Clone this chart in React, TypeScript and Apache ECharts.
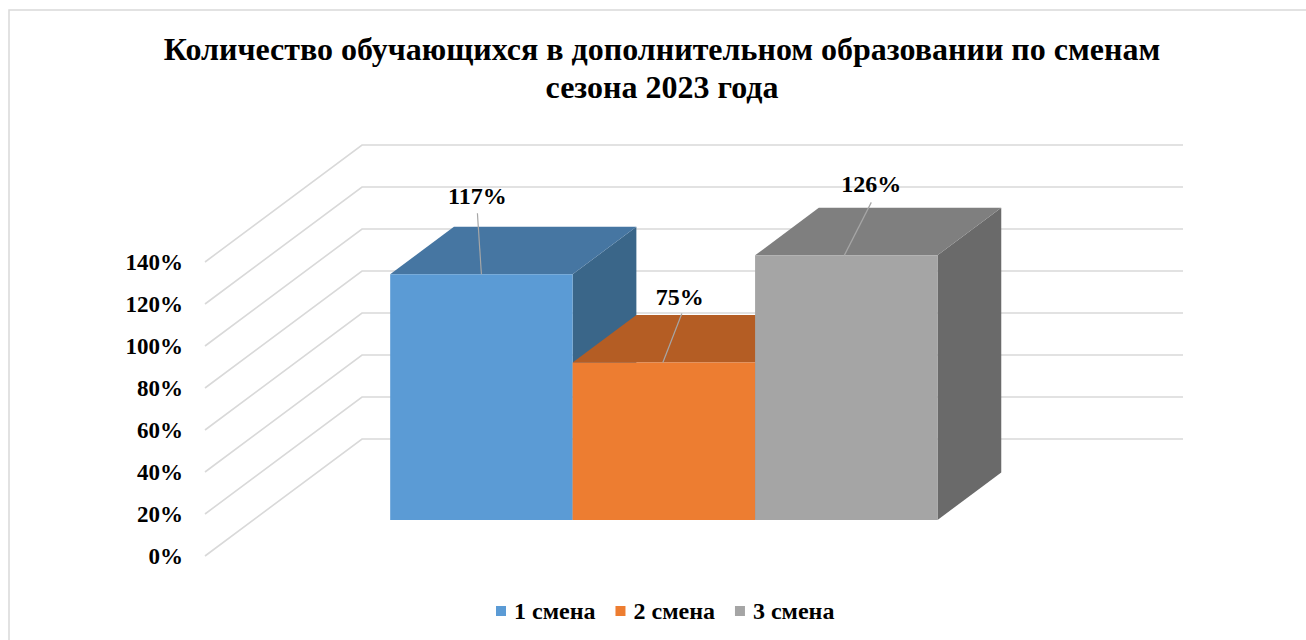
import React, { useEffect, useRef } from 'react';
import * as echarts from 'echarts';

// ---------- data ----------
const titleLines = [
  'Количество обучающихся в дополнительном образовании по сменам',
  'сезона 2023 года',
];
const categories = ['Сезон 2023'];
const seriesNames = ['1 смена', '2 смена', '3 смена'];
const seriesValues = [117, 75, 126];
const yTicks = [0, 20, 40, 60, 80, 100, 120, 140];

// ---------- styles ----------
const FONT = '"Liberation Serif", "Times New Roman", serif';
const faceColors = [
  { front: '#5B9BD5', top: '#4676A2', side: '#3A6689' },
  { front: '#ED7D31', top: '#B45D24', side: '#A0511E' },
  { front: '#A5A5A5', top: '#7F7F7F', side: '#6A6A6A' },
];
// label offsets relative to top-front-centre of each bar: [textDx, textDy, leaderStartDx, leaderStartDy, leaderEndDx]
const labelOffsets = [
  [-4, -78, -4, -61, 0],
  [16, -65, 18, -49, -1],
  [25, -71, 25, -53, -2],
];
const DEPTH = { dx: 157, dy: -117 };
const FRONT = 0.308;
const BACK = 0.714;
const GAP = 0.75;

export default function App() {
  const ref = useRef<HTMLDivElement>(null);
  useEffect(() => {
    if (!ref.current) return;
    const chart = echarts.init(ref.current, null, { renderer: 'svg' });
    const N = seriesNames.length;

    const gridSeries: any = {
      type: 'custom',
      name: 'grid',
      silent: true,
      z: 1,
      data: yTicks.map((v) => [0, v]),
      renderItem: (params: any, api: any) => {
        const cs = params.coordSys;
        const y = api.coord([0, api.value(1)])[1];
        const x0 = cs.x;
        const x1 = cs.x + cs.width;
        return {
          type: 'polyline',
          shape: {
            points: [
              [x0, y],
              [x0 + DEPTH.dx, y + DEPTH.dy],
              [x1 + DEPTH.dx, y + DEPTH.dy],
            ],
          },
          style: { stroke: '#d9d9d9', lineWidth: 1.6, fill: null },
        };
      },
    };

    const barSeries = seriesNames.map((name, i) => ({
      type: 'custom',
      name,
      z: 2,
      itemStyle: { color: faceColors[i].front },
      data: [[0, seriesValues[i]]],
      renderItem: (params: any, api: any) => {
        const val = api.value(1);
        const c = api.coord([api.value(0), val]);
        const base = api.coord([api.value(0), 0]);
        const bandW = api.size([1, 0])[0];
        const barW = bandW / (N + 2 * GAP);
        const xl = c[0] - bandW / 2 + GAP * barW + i * barW + DEPTH.dx * FRONT;
        const xr = xl + barW;
        const yt = c[1] + DEPTH.dy * FRONT;
        const yb = base[1] + DEPTH.dy * FRONT;
        const ddx = DEPTH.dx * (BACK - FRONT);
        const ddy = DEPTH.dy * (BACK - FRONT);
        const cx = (xl + xr) / 2;
        const off = labelOffsets[i];
        const col = faceColors[i];
        return {
          type: 'group',
          children: [
            {
              type: 'polygon',
              shape: { points: [[xr, yt], [xr + ddx, yt + ddy], [xr + ddx, yb + ddy], [xr, yb]] },
              style: { fill: col.side },
            },
            {
              type: 'polygon',
              shape: { points: [[xl, yt], [xr, yt], [xr + ddx, yt + ddy], [xl + ddx, yt + ddy]] },
              style: { fill: col.top },
            },
            {
              type: 'rect',
              shape: { x: xl, y: yt, width: barW, height: yb - yt },
              style: { fill: col.front },
            },
            {
              type: 'line',
              shape: { x1: cx + off[2], y1: yt + off[3], x2: cx + off[4], y2: yt },
              style: { stroke: '#a6a6a6', lineWidth: 1.2 },
            },
            {
              type: 'text',
              style: {
                text: val + '%',
                x: cx + off[0],
                y: yt + off[1],
                align: 'center',
                verticalAlign: 'middle',
                fontSize: 24,
                fontWeight: 'bold',
                fontFamily: FONT,
                fill: '#000',
              },
            },
          ],
        };
      },
    }));

    chart.setOption({
      animation: false,
      backgroundColor: '#ffffff',
      title: {
        text: titleLines.join('\n'),
        left: 657,
        textAlign: 'center',
        top: 25,
        textStyle: {
          fontFamily: FONT,
          fontWeight: 'bold',
          fontSize: 32,
          lineHeight: 38,
          color: '#000',
        },
      },
      legend: {
        data: seriesNames,
        left: 491,
        top: 594,
        itemWidth: 10,
        itemHeight: 10,
        itemGap: 20,
        icon: 'rect',
        textStyle: {
          fontFamily: FONT,
          fontWeight: 'bold',
          fontSize: 24,
          color: '#000',
          padding: [0, 0, 0, 3],
        },
      },
      graphic: [
        {
          type: 'rect',
          shape: { x: 9, y: 10, width: 1400, height: 800 },
          style: { fill: 'none', stroke: '#d9d9d9', lineWidth: 1.5 },
          silent: true,
          z: -1,
        },
      ],
      grid: { left: 205, top: 262, width: 821, height: 294 },
      xAxis: {
        type: 'category',
        data: categories,
        show: false,
      },
      yAxis: {
        type: 'value',
        min: 0,
        max: 140,
        interval: 20,
        axisLine: { show: false },
        axisTick: { show: false },
        splitLine: { show: false },
        axisLabel: {
          formatter: '{value}%',
          margin: 22,
          fontSize: 23,
          fontWeight: 'bold',
          fontFamily: FONT,
          color: '#000',
        },
      },
      series: [gridSeries, ...barSeries],
    });
    return () => chart.dispose();
  }, []);
  return (
    <div
      ref={ref}
      style={{ position: 'absolute', left: 0, top: 0, width: 1306, height: 640 }}
    />
  );
}
